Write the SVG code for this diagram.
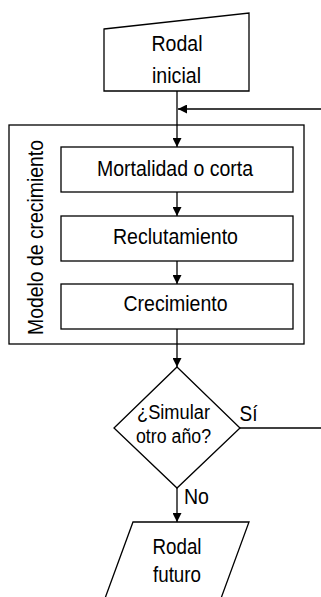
<svg xmlns="http://www.w3.org/2000/svg" width="321" height="597" viewBox="0 0 321 597">
<style>
.s{fill:#fff;stroke:#000;stroke-width:1.3}
.t{font-family:"Liberation Sans",Arial,sans-serif;font-size:22px;fill:#000;text-anchor:middle}
.d{font-size:20px}
.c{stroke:#000;stroke-width:1.3;fill:none}
</style>
<defs>
<marker id="a" markerUnits="userSpaceOnUse" markerWidth="10" markerHeight="9" refX="9" refY="4.5" orient="auto">
<path d="M0,0 L9,4.5 L0,9 z" fill="#000"/>
</marker>
</defs>
<rect width="321" height="597" fill="#fff"/>
<g id="modelo">
<rect class="s" x="9" y="125" width="295" height="219"/>
<text class="t" transform="translate(43,237.5) rotate(-90)" textLength="195" lengthAdjust="spacingAndGlyphs">Modelo de crecimiento</text>
</g>
<g id="connectors">
<line class="c" x1="177" y1="91" x2="177" y2="147" marker-end="url(#a)"/>
<line class="c" x1="321" y1="109" x2="178" y2="109" marker-end="url(#a)"/>
<line class="c" x1="177" y1="192" x2="177" y2="216" marker-end="url(#a)"/>
<line class="c" x1="177" y1="261" x2="177" y2="284" marker-end="url(#a)"/>
<line class="c" x1="177" y1="329" x2="177" y2="367" marker-end="url(#a)"/>
<line class="c" x1="240" y1="428" x2="321" y2="428"/>
<line class="c" x1="177" y1="488" x2="177" y2="522" marker-end="url(#a)"/>
<text class="t" x="248.5" y="421" textLength="18" lengthAdjust="spacingAndGlyphs">Sí</text>
<text class="t" x="196.5" y="504" textLength="25" lengthAdjust="spacingAndGlyphs">No</text>
</g>
<g id="rodal-inicial">
<polygon class="s" points="104,29 249,13 249,91 104,91"/>
<text class="t" x="177" y="51" textLength="51" lengthAdjust="spacingAndGlyphs">Rodal</text>
<text class="t" x="176.5" y="83" textLength="49" lengthAdjust="spacingAndGlyphs">inicial</text>
</g>
<g id="mortalidad">
<rect class="s" x="61" y="147" width="232" height="45"/>
<text class="t" x="175" y="176" textLength="156" lengthAdjust="spacingAndGlyphs">Mortalidad o corta</text>
</g>
<g id="reclutamiento">
<rect class="s" x="61" y="216" width="232" height="45"/>
<text class="t" x="175.5" y="244" textLength="125" lengthAdjust="spacingAndGlyphs">Reclutamiento</text>
</g>
<g id="crecimiento">
<rect class="s" x="61" y="284" width="232" height="45"/>
<text class="t" x="175.5" y="311" textLength="104" lengthAdjust="spacingAndGlyphs">Crecimiento</text>
</g>
<g id="decision">
<polygon class="s" points="177,367 240,428 177,488 114,428"/>
<text class="t d" x="173.5" y="419" textLength="73" lengthAdjust="spacingAndGlyphs">¿Simular</text>
<text class="t d" x="173.5" y="443" textLength="75" lengthAdjust="spacingAndGlyphs">otro año?</text>
</g>
<g id="rodal-futuro">
<polygon class="s" points="133,522 249,522 216,612 100,612"/>
<text class="t" x="177" y="554" textLength="49" lengthAdjust="spacingAndGlyphs">Rodal</text>
<text class="t" x="177" y="582" textLength="48" lengthAdjust="spacingAndGlyphs">futuro</text>
</g>
</svg>
